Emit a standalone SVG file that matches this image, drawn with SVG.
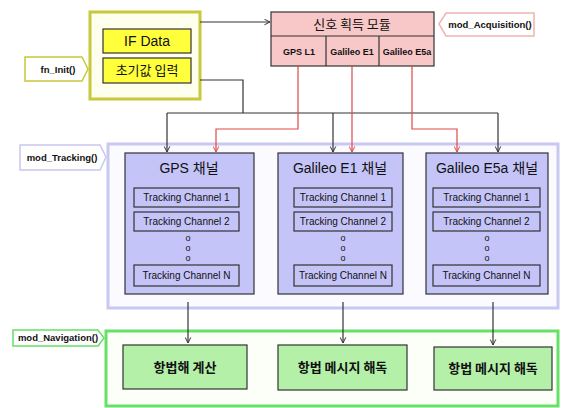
<svg xmlns="http://www.w3.org/2000/svg" width="563" height="408" viewBox="0 0 563 408">
  <style>
    text { font-family: "Liberation Sans", "Noto Sans CJK KR", sans-serif; fill: #111; text-anchor: middle; }
    .kr { font-family: "Noto Sans CJK KR", "Liberation Sans", sans-serif; }
    .tag { font-size: 9.5px; font-weight: bold; }
    .box { stroke: #333; stroke-width: 1.2; }
    .yellow { fill: #ffff3c; }
    .pink { fill: #f8c8c8; }
    .blue { fill: #c4c4f8; }
    .green { fill: #b4f0a8; }
    .ch { font-size: 10px; }
    .dot { font-size: 9px; }
    .wire { fill: none; stroke: #333; stroke-width: 1.2; }
    .red { fill: none; stroke: #e04848; stroke-width: 1.2; }
  </style>
  <defs>
    <marker id="arr" viewBox="0 0 10 10" refX="9" refY="5" markerWidth="7" markerHeight="7" orient="auto" markerUnits="userSpaceOnUse">
      <path d="M1,1 L9,5 L1,9" fill="none" stroke="#333" stroke-width="1.4"/>
    </marker>
    <marker id="arrR" viewBox="0 0 10 10" refX="9" refY="5" markerWidth="7" markerHeight="7" orient="auto" markerUnits="userSpaceOnUse">
      <path d="M1,1 L9,5 L1,9" fill="none" stroke="#e04848" stroke-width="1.4"/>
    </marker>
  </defs>

  <!-- function tags -->
  <g id="tag-init">
    <polygon points="25,57 82,57 88,69 82,81 25,81" fill="#fff" stroke="#c8c83c" stroke-width="1.5"/>
    <text class="tag" x="58" y="73">fn_Init()</text>
  </g>
  <g id="tag-acq">
    <polygon points="439,24 446,13 534,13 534,36 446,36" fill="#fff" stroke="#f0b4b4" stroke-width="1.5"/>
    <text class="tag" x="490" y="28">mod_Acquisition()</text>
  </g>
  <g id="tag-trk">
    <polygon points="20,145 100,145 106,157 100,170 20,170" fill="#fff" stroke="#c8c8f0" stroke-width="1.5"/>
    <text class="tag" x="62" y="161">mod_Tracking()</text>
  </g>
  <g id="tag-nav">
    <polygon points="13,330 98,330 104,338 98,346 13,346" fill="#fff" stroke="#66e066" stroke-width="1.5"/>
    <text class="tag" x="58" y="341">mod_Navigation()</text>
  </g>

  <!-- group frames -->
  <g id="frame-init">
    <rect x="90" y="12" width="110" height="87" fill="#ffffee" stroke="#c8c83c" stroke-width="3"/>
    <g id="if-data">
      <rect class="box yellow" x="103" y="29" width="88" height="24"/>
      <text x="147" y="46" font-size="14">IF Data</text>
    </g>
    <g id="init-input">
      <rect class="box yellow" x="103" y="58" width="88" height="25"/>
      <text class="kr" x="147" y="75" font-size="13">초기값 입력</text>
    </g>
  </g>

  <g id="acquisition">
    <rect class="box pink" x="271" y="12" width="163" height="54"/>
    <line class="box" x1="271" y1="36" x2="434" y2="36"/>
    <line class="box" x1="326" y1="36" x2="326" y2="66"/>
    <line class="box" x1="379" y1="36" x2="379" y2="66"/>
    <text class="kr" x="352" y="29" font-size="13">신호 획득 모듈</text>
    <text x="299" y="55" font-size="9" font-weight="bold">GPS L1</text>
    <text x="352" y="55" font-size="9" font-weight="bold">Galileo E1</text>
    <text x="407" y="55" font-size="9" font-weight="bold">Galileo E5a</text>
  </g>

  <g id="frame-tracking">
    <rect x="108" y="144" width="450" height="164" fill="#fafaff" stroke="#c8c8f0" stroke-width="3"/>
  </g>

  <g id="ch-gps">
    <rect class="box blue" x="125" y="153" width="129" height="141"/>
    <text x="189" y="173" font-size="14">GPS <tspan class="kr">채널</tspan></text>
    <rect class="box blue" x="134" y="188" width="105" height="19"/>
    <text class="ch" x="186.5" y="201">Tracking Channel 1</text>
    <rect class="box blue" x="134" y="212" width="105" height="19"/>
    <text class="ch" x="186.5" y="225">Tracking Channel 2</text>
    <text class="dot" x="188" y="241">o</text>
    <text class="dot" x="188" y="251">o</text>
    <text class="dot" x="188" y="261">o</text>
    <rect class="box blue" x="134" y="265" width="105" height="21"/>
    <text class="ch" x="186.5" y="279">Tracking Channel N</text>
  </g>

  <g id="ch-e1">
    <rect class="box blue" x="278" y="153" width="125" height="141"/>
    <text x="340" y="173" font-size="14">Galileo E1 <tspan class="kr">채널</tspan></text>
    <rect class="box blue" x="294" y="188" width="98" height="19"/>
    <text class="ch" x="343" y="201">Tracking Channel 1</text>
    <rect class="box blue" x="294" y="212" width="98" height="19"/>
    <text class="ch" x="343" y="225">Tracking Channel 2</text>
    <text class="dot" x="343" y="241">o</text>
    <text class="dot" x="343" y="251">o</text>
    <text class="dot" x="343" y="261">o</text>
    <rect class="box blue" x="294" y="265" width="98" height="21"/>
    <text class="ch" x="343" y="279">Tracking Channel N</text>
  </g>

  <g id="ch-e5a">
    <rect class="box blue" x="426" y="153" width="122" height="141"/>
    <text x="487" y="173" font-size="14">Galileo E5a <tspan class="kr">채널</tspan></text>
    <rect class="box blue" x="433" y="188" width="107" height="19"/>
    <text class="ch" x="486.5" y="201">Tracking Channel 1</text>
    <rect class="box blue" x="433" y="212" width="107" height="19"/>
    <text class="ch" x="486.5" y="225">Tracking Channel 2</text>
    <text class="dot" x="487" y="241">o</text>
    <text class="dot" x="487" y="251">o</text>
    <text class="dot" x="487" y="261">o</text>
    <rect class="box blue" x="433" y="265" width="107" height="21"/>
    <text class="ch" x="486.5" y="279">Tracking Channel N</text>
  </g>

  <g id="frame-navigation">
    <rect x="106" y="331" width="452" height="75" fill="#fcfff8" stroke="#66e066" stroke-width="3"/>
  </g>

  <g id="nav-solution">
    <rect class="box green" x="123" y="345" width="124" height="44"/>
    <text class="kr" x="185" y="372" font-size="13" font-weight="bold">항법해 계산</text>
  </g>
  <g id="nav-msg-e1">
    <rect class="box green" x="278" y="345" width="129" height="45"/>
    <text class="kr" x="342.5" y="372" font-size="13" font-weight="bold">항법 메시지 해독</text>
  </g>
  <g id="nav-msg-e5a">
    <rect class="box green" x="434" y="347" width="118" height="43"/>
    <text class="kr" x="493" y="373" font-size="13" font-weight="bold">항법 메시지 해독</text>
  </g>

  <!-- connectors -->
  <g id="connectors">
    <line class="wire" x1="200" y1="22" x2="270" y2="22" marker-end="url(#arr)"/>
    <polyline class="wire" points="200,80 243,80 243,113"/>
    <line class="wire" x1="167" y1="113" x2="498" y2="113"/>
    <line class="wire" x1="167" y1="113" x2="167" y2="152" marker-end="url(#arr)"/>
    <line class="wire" x1="333" y1="113" x2="333" y2="152" marker-end="url(#arr)"/>
    <line class="wire" x1="498" y1="113" x2="498" y2="152" marker-end="url(#arr)"/>
    <polyline class="red" points="298,66 298,129 216,129 216,152" marker-end="url(#arrR)"/>
    <line class="red" x1="352" y1="66" x2="352" y2="152" marker-end="url(#arrR)"/>
    <polyline class="red" points="412,66 412,129 457,129 457,152" marker-end="url(#arrR)"/>
    <line class="wire" x1="188" y1="302" x2="188" y2="343" marker-end="url(#arr)"/>
    <line class="wire" x1="343" y1="302" x2="343" y2="343" marker-end="url(#arr)"/>
    <line class="wire" x1="493" y1="302" x2="493" y2="345" marker-end="url(#arr)"/>
  </g>
</svg>
